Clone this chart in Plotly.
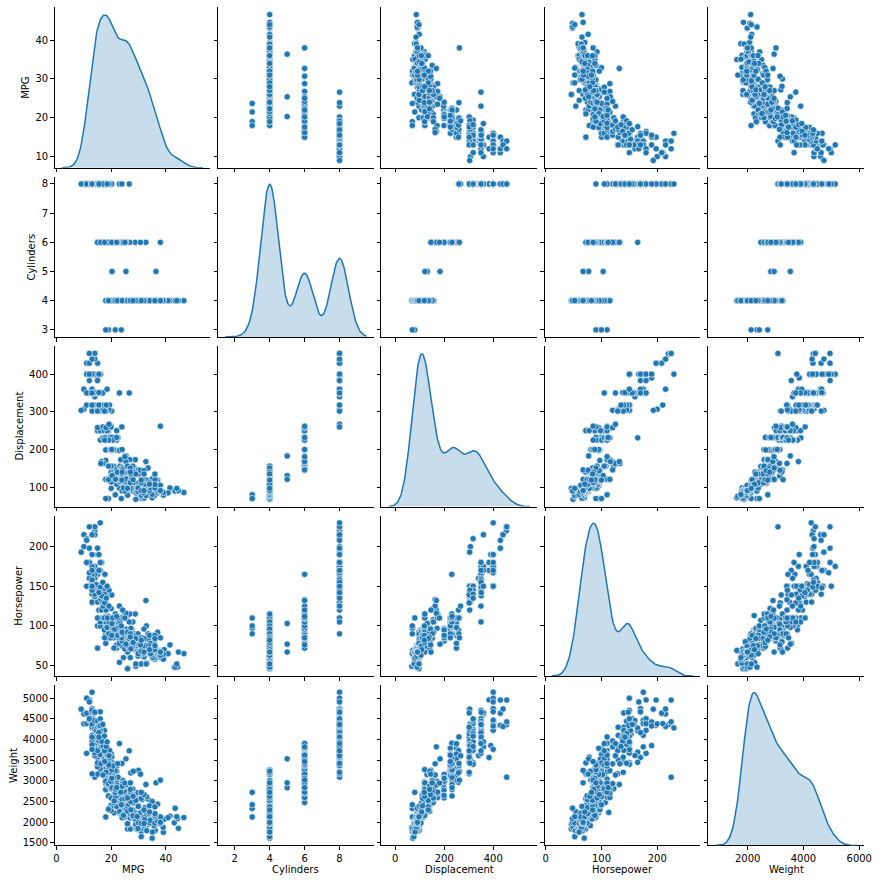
import numpy as np
import plotly.graph_objects as go

# ---- data (auto-mpg, rows with horsepower present) ----
mpg = [
    18, 15, 18, 16, 17, 15, 14, 14, 14, 15,
    15, 14, 15, 14, 24, 22, 18, 21, 27, 26,
    25, 24, 25, 26, 21, 10, 10, 11, 9, 27,
    28, 25, 19, 16, 17, 19, 18, 14, 14,
    14, 14, 12, 13, 13, 18, 22, 19, 18, 23,
    28, 30, 30, 31, 35, 27, 26, 24, 25, 23,
    20, 21, 13, 14, 15, 14, 17, 11, 13, 12,
    13, 19, 15, 13, 13, 14, 18, 22, 21, 26,
    22, 28, 23, 28, 27, 13, 14, 13, 14, 15,
    12, 13, 13, 14, 13, 12, 13, 18, 16, 18,
    18, 23, 26, 11, 12, 13, 12, 18, 20, 21,
    22, 18, 19, 21, 26, 15, 16, 29, 24, 20,
    19, 15, 24, 20, 11, 20, 19, 15, 31,
    26, 32, 25, 16, 16, 18, 16, 13, 14, 14,
    14, 29, 26, 26, 31, 32, 28, 24, 26, 24,
    26, 31, 19, 18, 15, 15, 16, 15, 16, 14,
    17, 16, 15, 18, 21, 20, 13, 29, 23, 20,
    23, 24, 25, 24, 18, 29, 19, 23, 23, 22,
    25, 33, 28, 25, 25, 26, 27, 17.5, 16, 15.5,
    14.5, 22, 22, 24, 22.5, 29, 24.5, 29, 33, 20,
    18, 18.5, 17.5, 29.5, 32, 28, 26.5, 20, 13, 19,
    19, 16.5, 16.5, 13, 13, 13, 31.5, 30, 36, 25.5,
    33.5, 17.5, 17, 15.5, 15, 17.5, 20.5, 19, 18.5, 16,
    15.5, 15.5, 16, 29, 24.5, 26, 25.5, 30.5, 33.5, 30,
    30.5, 22, 21.5, 21.5, 43.1, 36.1, 32.8, 39.4, 36.1, 19.9,
    19.4, 20.2, 19.2, 20.5, 20.2, 25.1, 20.5, 19.4, 20.6, 20.8,
    18.6, 18.1, 19.2, 17.7, 18.1, 17.5, 30, 27.5, 27.2, 30.9,
    21.1, 23.2, 23.8, 23.9, 20.3, 17, 21.6, 16.2, 31.5, 29.5,
    21.5, 19.8, 22.3, 20.2, 20.6, 17, 17.6, 16.5, 18.2, 16.9,
    15.5, 19.2, 18.5, 31.9, 34.1, 35.7, 27.4, 25.4, 23, 27.2,
    23.9, 34.2, 34.5, 31.8, 37.3, 28.4, 28.8, 26.8, 33.5, 41.5,
    38.1, 32.1, 37.2, 28, 26.4, 24.3, 19.1, 34.3, 29.8, 31.3,
    37, 32.2, 46.6, 27.9, 40.8, 44.3, 43.4, 36.4, 30, 44.6,
    33.8, 29.8, 32.7, 23.7, 35, 32.4, 27.2, 26.6,
    25.8, 23.5, 30, 39.1, 39, 35.1, 32.3, 37, 37.7, 34.1,
    34.7, 34.4, 29.9, 33, 33.7, 32.4, 32.9, 31.6, 28.1,
    30.7, 25.4, 24.2, 22.4, 26.6, 20.2, 17.6, 28, 27, 34,
    31, 29, 27, 24, 36, 37, 31, 38, 36, 36,
    36, 34, 38, 32, 38, 25, 38, 26, 22, 32,
    36, 27, 27, 44, 32, 28, 31,
]

cylinders = [
    8, 8, 8, 8, 8, 8, 8, 8, 8, 8,
    8, 8, 8, 8, 4, 6, 6, 6, 4, 4,
    4, 4, 4, 4, 6, 8, 8, 8, 8, 4,
    4, 4, 6, 6, 6, 6, 6, 8, 8,
    8, 8, 8, 8, 8, 6, 4, 6, 6, 4,
    4, 4, 4, 4, 4, 4, 4, 4, 4, 4,
    4, 4, 8, 8, 8, 8, 8, 8, 8, 8,
    8, 3, 8, 8, 8, 8, 4, 4, 4, 4,
    4, 4, 4, 4, 4, 8, 8, 8, 8, 8,
    8, 8, 8, 8, 8, 8, 8, 6, 6, 6,
    6, 6, 4, 8, 8, 8, 8, 6, 4, 4,
    4, 3, 4, 6, 4, 8, 8, 4, 4, 4,
    4, 8, 4, 6, 8, 6, 6, 6, 4,
    4, 4, 4, 6, 6, 6, 8, 8, 8, 8,
    8, 4, 4, 4, 4, 4, 4, 4, 4, 4,
    4, 4, 6, 6, 6, 6, 8, 8, 8, 8,
    6, 6, 6, 6, 6, 8, 8, 4, 4, 6,
    4, 4, 4, 4, 6, 4, 6, 4, 4, 4,
    4, 4, 4, 4, 4, 4, 4, 8, 8, 8,
    8, 6, 6, 6, 6, 4, 4, 4, 4, 6,
    6, 6, 6, 4, 4, 4, 4, 4, 8, 4,
    6, 6, 8, 8, 8, 8, 4, 4, 4, 4,
    4, 8, 8, 8, 8, 6, 6, 6, 6, 8,
    8, 8, 8, 4, 4, 4, 4, 4, 4, 4,
    4, 6, 4, 3, 4, 4, 4, 4, 4, 8,
    8, 8, 6, 6, 6, 4, 6, 6, 6, 6,
    6, 6, 8, 6, 8, 8, 4, 4, 4, 4,
    4, 4, 4, 4, 5, 6, 4, 6, 4, 4,
    6, 6, 4, 6, 6, 8, 8, 8, 8, 8,
    8, 8, 8, 4, 4, 4, 4, 5, 8, 4,
    8, 4, 4, 4, 4, 4, 6, 6, 4, 4,
    4, 4, 4, 4, 4, 4, 6, 4, 4, 4,
    4, 4, 4, 4, 4, 4, 4, 5, 4, 4,
    4, 4, 6, 3, 4, 4, 4, 4,
    4, 6, 4, 4, 4, 4, 4, 4, 4, 4,
    4, 4, 4, 4, 4, 4, 4, 4, 4,
    6, 6, 6, 6, 8, 6, 6, 4, 4, 4,
    4, 4, 4, 4, 4, 4, 4, 4, 4, 4,
    4, 4, 4, 4, 4, 6, 6, 4, 6, 4,
    4, 4, 4, 4, 4, 4, 4,
]

displacement = [
    307, 350, 318, 304, 302, 429, 454, 440, 455, 390,
    383, 340, 400, 455, 113, 198, 199, 200, 97, 97,
    110, 107, 104, 121, 199, 360, 307, 318, 304, 97,
    140, 113, 232, 225, 250, 250, 232, 350, 400,
    351, 318, 383, 400, 400, 258, 140, 250, 250, 122,
    116, 79, 88, 71, 72, 97, 91, 113, 97.5, 97,
    140, 122, 350, 400, 318, 351, 304, 429, 350, 350,
    400, 70, 304, 307, 302, 318, 121, 121, 120, 96,
    122, 97, 120, 98, 97, 350, 304, 350, 302, 318,
    429, 400, 351, 318, 440, 455, 360, 225, 250, 232,
    250, 198, 97, 400, 400, 360, 350, 232, 97, 140,
    108, 70, 122, 155, 98, 350, 400, 68, 116, 114,
    121, 318, 121, 156, 350, 198, 232, 250, 79,
    122, 71, 140, 250, 258, 225, 302, 350, 318, 302,
    304, 98, 79, 97, 76, 83, 90, 90, 116, 120,
    108, 79, 225, 250, 250, 250, 400, 350, 318, 351,
    231, 250, 258, 225, 231, 262, 302, 97, 140, 232,
    140, 134, 90, 119, 171, 90, 232, 115, 120, 121,
    121, 91, 107, 116, 140, 98, 101, 305, 318, 304,
    351, 225, 250, 200, 232, 85, 98, 90, 91, 225,
    250, 250, 258, 97, 85, 97, 140, 130, 318, 120,
    156, 168, 350, 350, 302, 318, 98, 111, 79, 122,
    85, 305, 260, 318, 302, 250, 231, 225, 250, 400,
    350, 400, 351, 97, 151, 97, 140, 98, 98, 97,
    97, 146, 121, 80, 90, 98, 78, 85, 91, 260,
    318, 302, 231, 200, 200, 140, 225, 232, 231, 200,
    225, 258, 305, 231, 302, 318, 98, 134, 119, 105,
    134, 156, 151, 119, 131, 163, 121, 163, 89, 98,
    231, 200, 140, 232, 225, 305, 302, 351, 318, 350,
    351, 267, 360, 89, 86, 98, 121, 183, 350, 141,
    260, 105, 105, 85, 91, 151, 173, 173, 151, 98,
    89, 98, 86, 151, 140, 151, 225, 97, 134, 120,
    119, 108, 86, 156, 85, 90, 90, 121, 146, 91,
    97, 89, 168, 70, 122, 107, 135, 151,
    156, 173, 135, 79, 86, 81, 97, 85, 89, 91,
    105, 98, 98, 105, 107, 108, 119, 120, 141,
    145, 168, 146, 231, 350, 200, 225, 112, 112, 112,
    112, 135, 151, 140, 105, 91, 91, 105, 98, 120,
    107, 108, 91, 91, 91, 181, 262, 156, 232, 144,
    135, 151, 140, 97, 135, 120, 119,
]

horsepower = [
    130, 165, 150, 150, 140, 198, 220, 215, 225, 190,
    170, 160, 150, 225, 95, 95, 97, 85, 88, 46,
    87, 90, 95, 113, 90, 215, 200, 210, 193, 88,
    90, 95, 100, 105, 100, 88, 100, 165, 175,
    153, 150, 180, 170, 175, 110, 72, 100, 88, 86,
    90, 70, 76, 65, 69, 60, 70, 95, 80, 54,
    90, 86, 165, 175, 150, 153, 150, 208, 155, 160,
    190, 97, 150, 130, 140, 150, 112, 76, 87, 69,
    86, 92, 97, 80, 88, 175, 150, 145, 137, 150,
    198, 150, 158, 150, 215, 225, 175, 105, 100, 100,
    88, 95, 46, 150, 167, 170, 180, 100, 88, 72,
    94, 90, 85, 107, 90, 145, 230, 49, 75, 91,
    112, 150, 110, 122, 180, 95, 100, 100, 67,
    80, 65, 75, 100, 110, 105, 140, 150, 150, 140,
    150, 83, 67, 78, 52, 61, 75, 75, 75, 97,
    93, 67, 95, 105, 72, 72, 170, 145, 150, 148,
    110, 105, 110, 95, 110, 110, 129, 75, 83, 100,
    78, 96, 71, 97, 97, 70, 90, 95, 88, 98,
    115, 53, 86, 81, 92, 79, 83, 140, 150, 120,
    152, 100, 105, 81, 90, 52, 60, 70, 53, 100,
    78, 110, 95, 71, 70, 75, 72, 102, 150, 88,
    108, 120, 180, 145, 130, 150, 68, 80, 58, 96,
    70, 145, 110, 145, 130, 110, 105, 100, 98, 180,
    170, 190, 149, 78, 88, 75, 89, 63, 83, 67,
    78, 97, 110, 110, 48, 66, 52, 70, 60, 110,
    140, 139, 105, 95, 85, 88, 100, 90, 105, 85,
    110, 120, 145, 165, 139, 140, 68, 95, 97, 75,
    95, 105, 85, 97, 103, 125, 115, 133, 71, 68,
    115, 85, 88, 90, 110, 130, 129, 138, 135, 155,
    142, 125, 150, 71, 65, 80, 80, 77, 125, 71,
    90, 70, 70, 65, 69, 90, 115, 115, 90, 76,
    60, 70, 65, 90, 88, 90, 90, 78, 90, 75,
    92, 75, 65, 105, 65, 48, 48, 67, 67, 67,
    67, 62, 132, 100, 88, 72, 84, 84,
    92, 110, 84, 58, 64, 60, 67, 65, 62, 68,
    63, 65, 65, 74, 75, 75, 100, 74, 80,
    76, 116, 120, 110, 105, 88, 85, 88, 88, 88,
    85, 84, 90, 92, 74, 68, 68, 63, 70, 88,
    75, 70, 67, 67, 67, 110, 85, 92, 112, 96,
    84, 90, 86, 52, 84, 79, 82,
]

weight = [
    3504, 3693, 3436, 3433, 3449, 4341, 4354, 4312, 4425, 3850,
    3563, 3609, 3761, 3086, 2372, 2833, 2774, 2587, 2130, 1835,
    2672, 2430, 2375, 2234, 2648, 4615, 4376, 4382, 4732, 2130,
    2264, 2228, 2634, 3439, 3329, 3302, 3288, 4209, 4464,
    4154, 4096, 4955, 4746, 5140, 2962, 2408, 3282, 3139, 2220,
    2123, 2074, 2065, 1773, 1613, 1834, 1955, 2278, 2126, 2254,
    2408, 2226, 4274, 4385, 4135, 4129, 3672, 4633, 4502, 4456,
    4422, 2330, 3892, 4098, 4294, 4077, 2933, 2511, 2979, 2189,
    2395, 2288, 2506, 2164, 2100, 4100, 3672, 3988, 4042, 3777,
    4952, 4464, 4363, 4237, 4735, 4951, 3821, 3121, 3278, 2945,
    3021, 2904, 1950, 4997, 4906, 4654, 4499, 2789, 2279, 2401,
    2379, 2124, 2310, 2472, 2265, 4082, 4278, 1867, 2158, 2582,
    2868, 3399, 2660, 2807, 3664, 3102, 2901, 3336, 1950,
    2451, 1836, 2542, 3781, 3632, 3613, 4141, 4699, 4457, 4638,
    4257, 2219, 1963, 2300, 1649, 2003, 2125, 2108, 2246, 2489,
    2391, 2000, 3264, 3459, 3432, 3158, 4668, 4440, 4498, 4657,
    3907, 3897, 3730, 3785, 3039, 3221, 3169, 2171, 2639, 2914,
    2592, 2702, 2223, 2545, 2984, 1937, 3211, 2694, 2957, 2945,
    2671, 1795, 2464, 2220, 2572, 2255, 2202, 4215, 4190, 3962,
    4215, 3233, 3353, 3012, 3085, 2035, 2164, 1937, 1795, 3651,
    3574, 3645, 3193, 1825, 1990, 2155, 2565, 3150, 3940, 3270,
    2930, 3820, 4380, 4055, 3870, 3755, 2045, 2155, 1825, 2300,
    1945, 3880, 4060, 4140, 4295, 3520, 3425, 3630, 3525, 4220,
    4165, 4325, 4335, 1940, 2740, 2265, 2755, 2051, 2075, 1985,
    2190, 2815, 2600, 2720, 1985, 1800, 1985, 2070, 1800, 3365,
    3735, 3570, 3535, 3155, 2965, 2720, 3430, 3210, 3380, 3070,
    3620, 3410, 3425, 3445, 3205, 4080, 2155, 2560, 2300, 2230,
    2515, 2745, 2855, 2405, 2830, 3140, 2795, 3410, 1990, 2135,
    3245, 2990, 2890, 3265, 3360, 3840, 3725, 3955, 3830, 4360,
    4054, 3605, 3940, 1925, 1975, 1915, 2670, 3530, 3900, 3190,
    3420, 2200, 2150, 2020, 2130, 2670, 2595, 2700, 2556, 2144,
    1968, 2120, 2019, 2678, 2870, 3003, 3381, 2188, 2711, 2542,
    2434, 2265, 2110, 2800, 2110, 2085, 2335, 2950, 3250, 1850,
    2145, 1845, 2910, 2420, 2500, 2290, 2490, 2635,
    2620, 2725, 2385, 1755, 1875, 1760, 2065, 1975, 2050, 1985,
    2215, 2045, 2380, 2190, 2210, 2350, 2615, 2635, 3230,
    3160, 2900, 2930, 3415, 3725, 3060, 3465, 2605, 2640, 2395,
    2575, 2525, 2735, 2865, 1980, 2025, 1970, 2125, 2125, 2160,
    2205, 2245, 1965, 1965, 1995, 2945, 3015, 2585, 2835, 2665,
    2370, 2950, 2790, 2130, 2295, 2625, 2720,
]

variables = ["MPG", "Cylinders", "Displacement", "Horsepower", "Weight"]
x_tick_values = {
    "MPG": [0, 20, 40],
    "Cylinders": [2, 4, 6, 8],
    "Displacement": [0, 200, 400],
    "Horsepower": [0, 100, 200],
    "Weight": [2000, 4000, 6000],
}
y_tick_values = {
    "MPG": [10, 20, 30, 40],
    "Cylinders": [3, 4, 5, 6, 7, 8],
    "Displacement": [100, 200, 300, 400],
    "Horsepower": [50, 100, 150, 200],
    "Weight": [1500, 2000, 2500, 3000, 3500, 4000, 4500, 5000],
}

columns = [mpg, cylinders, displacement, horsepower, weight]
if len({len(c) for c in columns}) != 1:
    raise ValueError("length mismatch: %s" % [len(c) for c in columns])
series = {v: np.asarray(c, float) for v, c in zip(variables, columns)}

# ---- styling / geometry ----
BLUE = "#1f77b4"
FONT = "DejaVu Sans"
W = H = 886
LEFT0, COL_PITCH, CELL_W = 53.3, 165.25, 157.4
TOP0, ROW_PITCH, CELL_H = 7.3, 170.0, 161.0
N = len(variables)


def kde(values):
    v = np.asarray(values, float)
    n = len(v)
    bw = v.std(ddof=1) * n ** (-0.2)
    grid = np.linspace(v.min() - 3 * bw, v.max() + 3 * bw, 200)
    dens = np.exp(-0.5 * ((grid[:, None] - v[None, :]) / bw) ** 2).sum(1) / (n * bw * np.sqrt(2 * np.pi))
    return grid, dens


kdes = {v: kde(series[v]) for v in variables}


def padded(lo, hi, frac=0.05):
    span = hi - lo
    return [lo - frac * span, hi + frac * span]


x_ranges = {v: padded(kdes[v][0].min(), kdes[v][0].max()) for v in variables}
y_ranges = {v: padded(series[v].min(), series[v].max()) for v in variables}

fig = go.Figure()
layout = dict(
    width=W, height=H,
    margin=dict(l=0, r=0, t=0, b=0),
    paper_bgcolor="white", plot_bgcolor="rgba(0,0,0,0)",
    showlegend=False,
    font=dict(family=FONT, size=10, color="black"),
)

axis_common = dict(
    showline=True, linecolor="black", linewidth=1,
    ticks="outside", ticklen=3.5, tickwidth=0.8, tickcolor="black",
    showgrid=False, zeroline=False, mirror=False,
    tickfont=dict(family=FONT, size=10, color="black"),
)

annotations = []
for r, yv in enumerate(variables):
    top_px = TOP0 + r * ROW_PITCH
    ydom = [1 - (top_px + CELL_H) / H, 1 - top_px / H]
    for c, xv in enumerate(variables):
        k = r * N + c + 1
        left_px = LEFT0 + c * COL_PITCH
        xdom = [left_px / W, (left_px + CELL_W) / W]
        xs = "" if k == 1 else str(k)
        layout["xaxis" + xs] = dict(
            axis_common, domain=xdom, anchor="y" + xs, range=x_ranges[xv],
            tickvals=x_tick_values[xv], showticklabels=(r == N - 1),
        )
        layout["yaxis" + xs] = dict(
            axis_common, domain=ydom, anchor="x" + xs, range=y_ranges[yv],
            tickvals=y_tick_values[yv], showticklabels=(c == 0),
        )
        if r == c:
            # KDE drawn on its own hidden pair of axes occupying the same cell
            ks = str(N * N + r + 1)
            grid, dens = kdes[xv]
            layout["xaxis" + ks] = dict(
                domain=xdom, anchor="y" + ks, range=x_ranges[xv], visible=False,
                showgrid=False, zeroline=False,
            )
            layout["yaxis" + ks] = dict(
                domain=ydom, anchor="x" + ks, range=[0, dens.max() * 1.05], visible=False,
                showgrid=False, zeroline=False,
            )
            fig.add_trace(go.Scatter(
                x=grid, y=dens, mode="lines", fill="tozeroy",
                fillcolor="rgba(31,119,180,0.25)",
                line=dict(color=BLUE, width=1.5),
                xaxis="x" + ks, yaxis="y" + ks, hoverinfo="skip",
            ))
            # keep the cell's own axes alive (empty trace)
            fig.add_trace(go.Scatter(
                x=[], y=[], mode="markers", xaxis="x" + xs, yaxis="y" + xs,
                hoverinfo="skip",
            ))
        else:
            fig.add_trace(go.Scatter(
                x=series[xv], y=series[yv], mode="markers",
                marker=dict(color=BLUE, size=6.3, line=dict(color="white", width=0.6)),
                xaxis="x" + xs, yaxis="y" + xs,
            ))

    # y-axis title for this row, placed left of the widest tick label
    nchar = max(len(str(t)) for t in y_tick_values[yv])
    xc = LEFT0 - 7 - nchar * 6.36 - 4 - 6
    annotations.append(dict(
        text=yv, x=xc / W, y=1 - (top_px + CELL_H / 2) / H, xref="paper", yref="paper",
        textangle=-90, showarrow=False, xanchor="center", yanchor="middle",
        font=dict(family=FONT, size=10, color="black"),
    ))

for c, xv in enumerate(variables):
    left_px = LEFT0 + c * COL_PITCH
    annotations.append(dict(
        text=xv, x=(left_px + CELL_W / 2) / W, y=1 - 872.7 / H, xref="paper", yref="paper",
        showarrow=False, xanchor="center", yanchor="middle",
        font=dict(family=FONT, size=10, color="black"),
    ))

layout["annotations"] = annotations
fig.update_layout(**layout)
fig.write_html(
    "out.html",
    config={"displayModeBar": False},
    post_script="document.body.style.margin='0';document.body.style.overflow='hidden';",
)
